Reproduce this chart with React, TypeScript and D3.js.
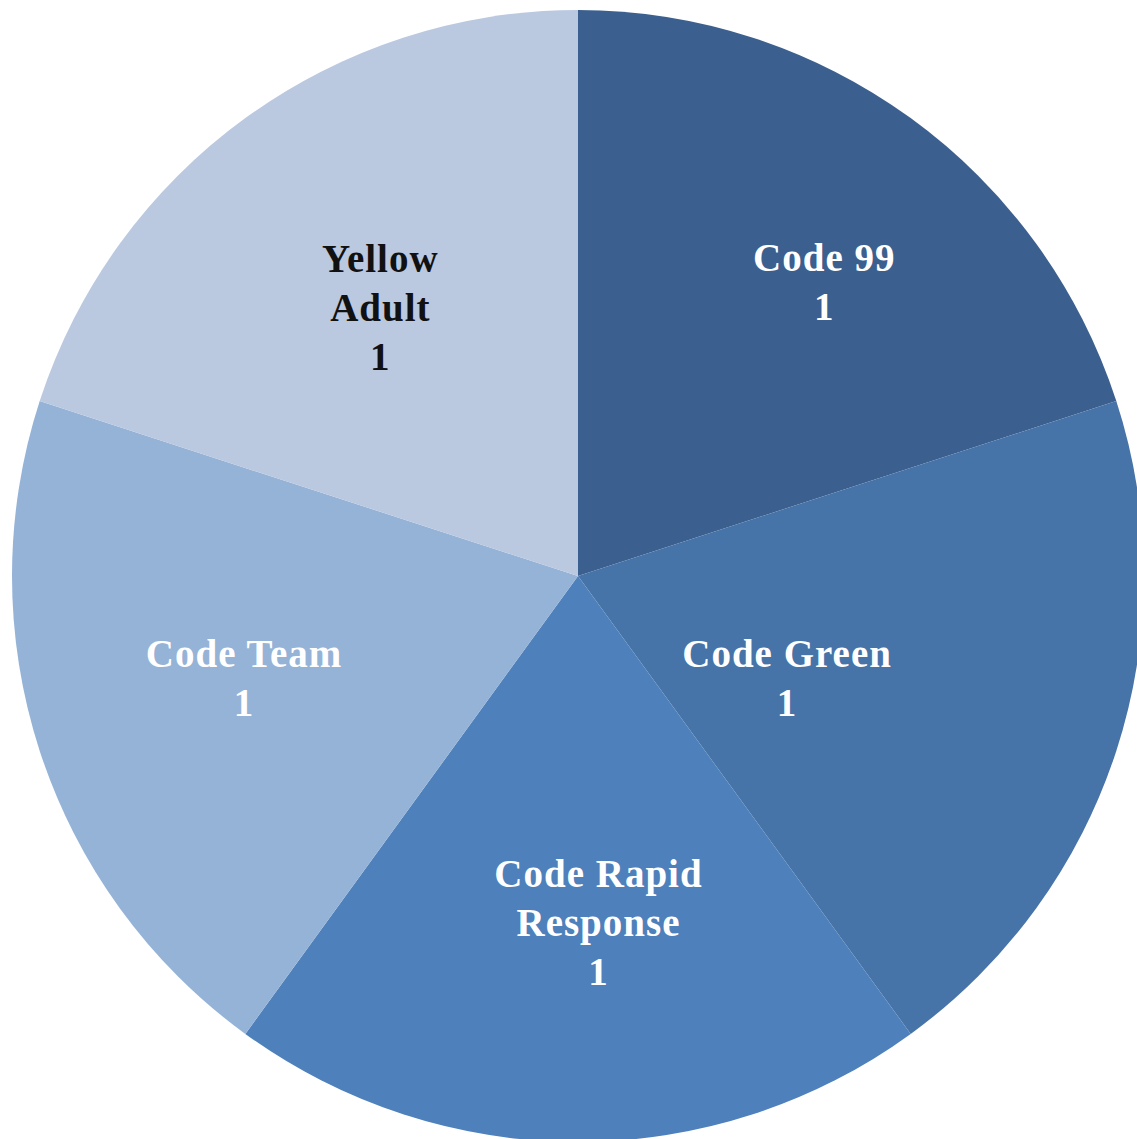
import React from "react";
import * as d3 from "d3";

const categories = ["Code 99", "Code Green", "Code Rapid Response", "Code Team", "Yellow Adult"];
const values = [1, 1, 1, 1, 1];
const labelLines = [["Code 99"], ["Code Green"], ["Code Rapid", "Response"], ["Code Team"], ["Yellow", "Adult"]];
const colors = ["#3b5f8e", "#4673a8", "#4e80bb", "#95b3d7", "#bac8e0"];
const textColors = ["#ffffff", "#ffffff", "#ffffff", "#ffffff", "#111111"];
// label placement (Excel best-fit): radius fraction and angle offset in degrees
const labelRadius = [0.677, 0.41, 0.613, 0.618, 0.59];
const labelAngleOffset = [3.9, 8, -3.3, 1, -0.4];

const W = 1137;
const H = 1139;
const CX = 578;
const CY = 576;
const R = 566;
const LINE_H = 49;

export default function App() {
  const data = categories.map((c, i) => ({ c, v: values[i], i }));
  const pie = d3.pie<any>().sort(null).value((d) => d.v).startAngle(0).endAngle(2 * Math.PI);
  const arcs = pie(data);
  const arc = d3.arc<any>().innerRadius(0).outerRadius(R);
  return (
    <svg width={W} height={H} style={{ position: "absolute", left: 0, top: 0 }}>
      <g transform={`translate(${CX},${CY})`}>
        {arcs.map((a, i) => (
          <path key={i} d={arc(a) as string} fill={colors[i]} />
        ))}
        {arcs.map((a, i) => {
          const mid = (a.startAngle + a.endAngle) / 2 + (labelAngleOffset[i] * Math.PI) / 180;
          const rr = R * labelRadius[i];
          const x = Math.sin(mid) * rr;
          const y = -Math.cos(mid) * rr;
          const lines = [...labelLines[i], String(values[i])];
          const top = y - ((lines.length - 1) * LINE_H) / 2;
          return (
            <text
              key={i}
              textAnchor="middle"
              fontFamily="'Liberation Serif', serif"
              fontWeight="bold"
              fontSize={39}
              letterSpacing={1}
              fill={textColors[i]}
            >
              {lines.map((l, j) => (
                <tspan key={j} x={x + 0.5} y={top + j * LINE_H} dominantBaseline="central">
                  {l}
                </tspan>
              ))}
            </text>
          );
        })}
      </g>
    </svg>
  );
}
